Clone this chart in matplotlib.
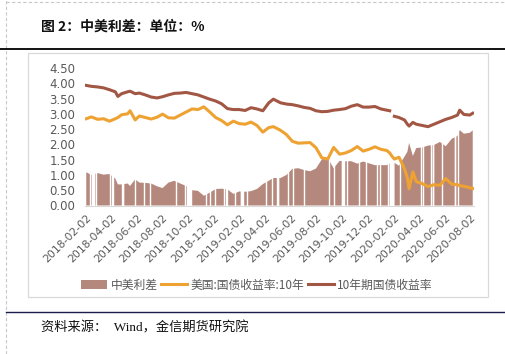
import numpy as np
import pandas as pd
import matplotlib
matplotlib.use("Agg")
import matplotlib.pyplot as plt
from matplotlib.patches import Patch, Rectangle
from matplotlib.lines import Line2D

plt.rcParams['font.family'] = ['Noto Sans CJK SC', 'DejaVu Sans']

# --- data ---
dates = ["2018-02-02", "2018-02-14", "2018-03-01", "2018-03-15", "2018-03-29",
         "2018-04-12", "2018-04-18", "2018-04-27", "2018-05-11", "2018-05-17",
         "2018-05-29", "2018-06-08", "2018-06-22", "2018-07-06", "2018-07-20",
         "2018-08-02", "2018-08-16", "2018-08-30", "2018-09-13", "2018-09-27",
         "2018-10-11", "2018-10-25", "2018-11-08", "2018-11-22", "2018-12-06",
         "2018-12-20", "2019-01-03", "2019-01-17", "2019-01-31", "2019-02-14",
         "2019-02-28", "2019-03-14", "2019-03-28", "2019-04-11", "2019-04-22",
         "2019-05-09", "2019-05-23", "2019-06-06", "2019-06-20", "2019-07-04",
         "2019-07-18", "2019-08-01", "2019-08-15", "2019-08-29", "2019-09-12",
         "2019-09-26", "2019-10-10", "2019-10-24", "2019-11-07", "2019-11-21",
         "2019-12-05", "2019-12-19", "2020-01-02", "2020-01-16", "2020-01-23",
         "2020-01-28", "2020-02-03", "2020-02-14", "2020-02-27", "2020-03-05",
         "2020-03-09", "2020-03-18", "2020-03-26", "2020-04-09", "2020-04-23",
         "2020-05-07", "2020-05-21", "2020-06-04", "2020-06-18", "2020-07-02",
         "2020-07-07", "2020-07-17", "2020-07-31", "2020-08-07"]

cn_10y = [3.93, 3.90, 3.88, 3.85, 3.79, 3.72, 3.57, 3.66, 3.72, 3.74,
          3.66, 3.68, 3.62, 3.55, 3.52, 3.56, 3.62, 3.67, 3.68, 3.70,
          3.66, 3.62, 3.55, 3.48, 3.42, 3.33, 3.17, 3.14, 3.14, 3.11,
          3.20, 3.16, 3.10, 3.36, 3.48, 3.36, 3.32, 3.30, 3.26, 3.21,
          3.18, 3.10, 3.07, 3.08, 3.12, 3.14, 3.17, 3.25, 3.30, 3.22,
          3.22, 3.24, 3.16, 3.12, 3.10, np.nan, 2.92, 2.88, 2.80, 2.66,
          2.60, 2.72, 2.66, 2.62, 2.58, 2.66, 2.74, 2.82, 2.88, 2.96,
          3.12, 2.98, 2.96, 3.02]

us_10y = [2.84, 2.90, 2.82, 2.84, 2.76, 2.84, 2.88, 2.97, 3.00, 3.10,
          2.80, 2.93, 2.88, 2.83, 2.89, 2.99, 2.87, 2.86, 2.96, 3.06,
          3.16, 3.14, 3.23, 3.06, 2.88, 2.78, 2.64, 2.76, 2.68, 2.66,
          2.73, 2.62, 2.40, 2.55, 2.58, 2.46, 2.32, 2.10, 2.04, 2.05,
          2.06, 1.89, 1.56, 1.52, 1.90, 1.68, 1.72, 1.80, 1.93, 1.78,
          1.84, 1.92, 1.84, 1.80, 1.72, 1.62, 1.52, 1.58, 1.20, 0.90,
          0.55, 1.10, 0.78, 0.72, 0.62, 0.68, 0.66, 0.88, 0.70, 0.68,
          0.65, 0.63, 0.58, 0.56]

# days with no spread value (one of the two markets closed)
gap_days = ["2018-02-11", "2018-02-15", "2018-02-16", "2018-02-19", "2018-02-20",
            "2018-02-21", "2018-02-24", "2018-03-30", "2018-04-05", "2018-04-06",
            "2018-04-28", "2018-04-30", "2018-05-01", "2018-05-28", "2018-06-18",
            "2018-07-04", "2018-09-03", "2018-09-24", "2018-09-29", "2018-10-01",
            "2018-10-02", "2018-10-03", "2018-10-04", "2018-10-05", "2018-10-08",
            "2018-11-12", "2018-11-22", "2018-12-05", "2018-12-25", "2018-12-31",
            "2019-01-01", "2019-01-21", "2019-02-04", "2019-02-05", "2019-02-06",
            "2019-02-07", "2019-02-08", "2019-02-18", "2019-04-05", "2019-04-19",
            "2019-05-01", "2019-05-02", "2019-05-03", "2019-05-27", "2019-06-07",
            "2019-07-04", "2019-09-02", "2019-09-13", "2019-10-01", "2019-10-02",
            "2019-10-03", "2019-10-04", "2019-10-07", "2019-10-14", "2019-11-11",
            "2019-11-28", "2019-12-25", "2020-01-01", "2020-01-20", "2020-01-24",
            "2020-01-27", "2020-01-28", "2020-01-29", "2020-01-30", "2020-01-31",
            "2020-02-17", "2020-04-06", "2020-04-10", "2020-05-01", "2020-05-04",
            "2020-05-05", "2020-05-25", "2020-06-25", "2020-06-26", "2020-07-03"]

tick_dates = pd.date_range("2018-02-02", "2020-08-02", freq=pd.DateOffset(months=2))

x = pd.to_datetime(dates)
cn = np.array(cn_10y)
us = np.array(us_10y)
spread = cn - us

W, H = 505, 354
fig = plt.figure(figsize=(W / 100, H / 100), dpi=100)

def fx(px):
    return px / W

def fy(py):
    return 1 - py / H

# page decorations
fig.add_artist(Line2D([fx(6), fx(6)], [0, 1], color='#C8C8C8', lw=0.8, ls=(0, (3, 2))))
fig.add_artist(Line2D([fx(6), 1], [fy(2), fy(2)], color='#C8C8C8', lw=0.8, ls=(0, (3, 2))))
fig.add_artist(Line2D([0, 1], [fy(49), fy(49)], color='black', lw=1.3))
fig.add_artist(Line2D([fx(6), 1], [fy(312), fy(312)], color='#1C1C4A', lw=1.0))
fig.add_artist(Rectangle((fx(28), fy(297)), fx(488) - fx(28), fy(53) - fy(297),
                         fill=False, edgecolor='#D9D9D9', lw=0.9))

fig.text(fx(41), fy(27), "图 2：中美利差：单位：%", fontsize=10, fontweight='bold',
         va='center', ha='left', color='#111111')
fig.text(fx(41), fy(328), "资料来源：  Wind，金信期货研究院", fontsize=9.5,
         va='center', ha='left', color='#111111',
         family=['Liberation Serif', 'Noto Sans CJK SC'])

ax = fig.add_axes([fx(85), fy(205.5), fx(474) - fx(85), fy(68) - fy(205.5)])

bar_c = '#B5887D'
us_c = '#EEA232'
cn_c = '#A25744'

ax.fill_between(x, 0, spread, color=bar_c, lw=0, zorder=1)
gaps = pd.to_datetime(gap_days)
ax.vlines(gaps, 0, 4.5, color='white', lw=1.0, zorder=1.5)
ax.plot(x, us, color=us_c, lw=2.2, zorder=3)
ax.plot(x, cn, color=cn_c, lw=2.2, zorder=3)

ax.set_ylim(0, 4.5)
ax.set_yticks(np.arange(0, 4.51, 0.5))
ax.set_yticklabels([f"{v:.2f}" for v in np.arange(0, 4.51, 0.5)])
ax.set_xlim(pd.Timestamp("2018-01-30"), pd.Timestamp("2020-08-10"))
ax.set_xticks(tick_dates)
ax.set_xticklabels([d.strftime("%Y-%m-%d") for d in tick_dates], rotation=45,
                   ha='right', rotation_mode='anchor')

for s in ['top', 'right', 'left']:
    ax.spines[s].set_visible(False)
ax.spines['bottom'].set_color('#D9D9D9')
ax.tick_params(axis='both', length=0, colors='#595959')
ax.tick_params(axis='y', pad=7, labelsize=8.5)
ax.tick_params(axis='x', pad=5, labelsize=7.8)
for lab in ax.get_xticklabels() + ax.get_yticklabels():
    lab.set_family(['DejaVu Sans'])

handles = [Patch(facecolor=bar_c, edgecolor='none'),
           Line2D([], [], color=us_c, lw=2.2),
           Line2D([], [], color=cn_c, lw=2.2)]
labels = ["中美利差", "美国:国债收益率:10年", "10年期国债收益率"]
fig.legend(handles, labels, loc='center', bbox_to_anchor=(fx(257), fy(285)),
           ncol=3, frameon=False, fontsize=8.5, handlelength=2.2,
           handletextpad=0.3, columnspacing=0.3, labelcolor='#595959')

fig.savefig("out.png", dpi=100)
